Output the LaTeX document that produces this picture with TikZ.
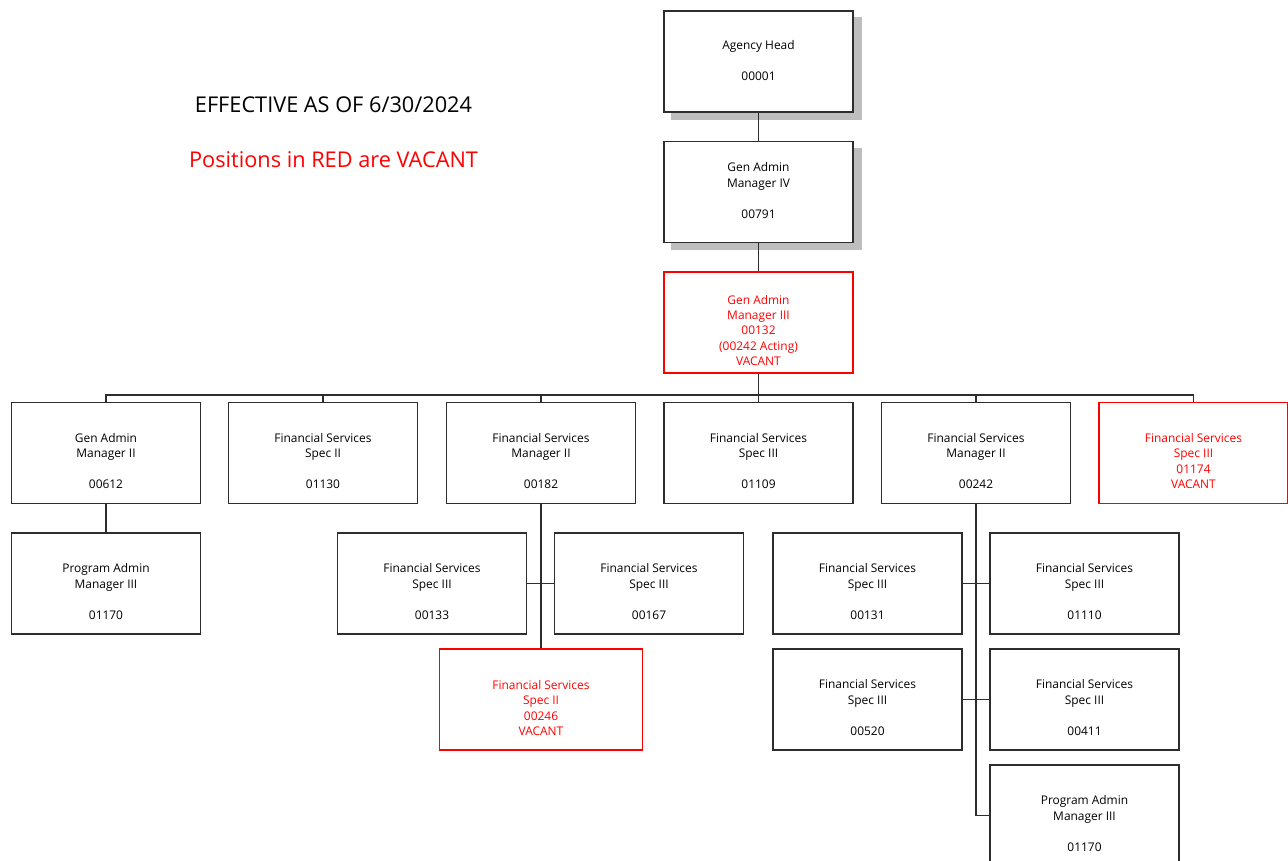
\documentclass[tikz,border=0pt]{standalone}
\usepackage{fontspec}
\setmainfont{Open Sans}
\usetikzlibrary{backgrounds,calc}
\definecolor{linecol}{RGB}{45,45,45}
\definecolor{vacant}{RGB}{255,0,0}
\definecolor{shade}{RGB}{190,190,190}
\tikzset{
  box/.style={draw=linecol, line width=0.85pt, fill=white, minimum width=141.75pt,
    minimum height=75.75pt, inner sep=0pt},
  vbox/.style={box, draw=vacant},
  txt/.style={align=center, inner sep=0pt, text=black, font=\fontsize{8.95}{11.6}\selectfont},
  vtxt/.style={txt, text=vacant},
  conn/.style={draw=linecol, line width=1pt},
  shadowfill/.style={fill=shade},
  headline/.style={inner sep=0pt, font=\fontsize{16.3}{19}\selectfont}
}
\begin{document}
\begin{tikzpicture}[x=0.75pt, y=-0.75pt]
\clip (0,0) rectangle (1288,860);

% header notes
\node[headline] (eff) at (333.5,105) {EFFECTIVE AS OF 6/30/2024};
\node[headline, text=vacant] (note) at (333.5,160) {Positions in RED are VACANT};

% top of chain
\node[box] (ah)  at (758.5,61.5) {};
\node[txt] (ahT) at ([yshift=1]ah.center) {Agency Head\\[11.6pt]00001};
\node[box] (gm4) at (758.5,192) {};
\node[txt] (gm4T) at ([yshift=1]gm4.center) {Gen Admin\\Manager IV\\[11.6pt]00791};
\node[vbox] (gm3) at (758.5,322.5) {};
\node[vtxt] (gm3T) at ([yshift=-6]gm3.center) {Gen Admin\\Manager III\\00132\\(00242 Acting)\\VACANT};

% second row
\node[box] (gm2) at (106,453) {};
\node[txt] (gm2T) at ([yshift=-6]gm2.center) {Gen Admin\\Manager II\\[11.6pt]00612};
\node[box] (fs1130) at (323,453) {};
\node[txt] (fs1130T) at ([yshift=-6]fs1130.center) {Financial Services\\Spec II\\[11.6pt]01130};
\node[box] (fm182) at (541,453) {};
\node[txt] (fm182T) at ([yshift=-6]fm182.center) {Financial Services\\Manager II\\[11.6pt]00182};
\node[box] (fs1109) at (758.5,453) {};
\node[txt] (fs1109T) at ([yshift=-6]fs1109.center) {Financial Services\\Spec III\\[11.6pt]01109};
\node[box] (fm242) at (976,453) {};
\node[txt] (fm242T) at ([yshift=-6]fm242.center) {Financial Services\\Manager II\\[11.6pt]00242};
\node[vbox] (fs1174) at (1193.5,453) {};
\node[vtxt] (fs1174T) at ([yshift=-6]fs1174.center) {Financial Services\\Spec III\\01174\\VACANT};

% under Gen Admin Manager II
\node[box] (pmA) at (106,583.5) {};
\node[txt] (pmAT) at ([yshift=-6]pmA.center) {Program Admin\\Manager III\\[11.6pt]01170};

% under Financial Services Manager II (00182)
\node[box] (fs133) at (432,583.5) {};
\node[txt] (fs133T) at ([yshift=-6]fs133.center) {Financial Services\\Spec III\\[11.6pt]00133};
\node[box] (fs167) at (649,583.5) {};
\node[txt] (fs167T) at ([yshift=-6]fs167.center) {Financial Services\\Spec III\\[11.6pt]00167};
\node[vbox, minimum width=152.25pt] (fs246) at (541,699.5) {};
\node[vtxt] (fs246T) at ([yshift=-6.5]fs246.center) {Financial Services\\Spec II\\00246\\VACANT};

% under Financial Services Manager II (00242)
\node[box] (fs131) at (867.5,583.5) {};
\node[txt] (fs131T) at ([yshift=-6]fs131.center) {Financial Services\\Spec III\\[11.6pt]00131};
\node[box] (fs1110) at (1084.5,583.5) {};
\node[txt] (fs1110T) at ([yshift=-6]fs1110.center) {Financial Services\\Spec III\\[11.6pt]01110};
\node[box] (fs520) at (867.5,699.5) {};
\node[txt] (fs520T) at ([yshift=-6]fs520.center) {Financial Services\\Spec III\\[11.6pt]00520};
\node[box] (fs411) at (1084.5,699.5) {};
\node[txt] (fs411T) at ([yshift=-6]fs411.center) {Financial Services\\Spec III\\[11.6pt]00411};
\node[box] (pmB) at (1084.5,815.5) {};
\node[txt] (pmBT) at ([yshift=-6]pmB.center) {Program Admin\\Manager III\\[11.6pt]01170};

% white page and drop shadows of the two senior boxes
\begin{scope}[on background layer]
  \fill[white] (0,0) rectangle (1288,860);
  \fill[shadowfill] ([shift={(8,7)}]ah.south west) rectangle ([shift={(8,7)}]ah.north east);
  \fill[shadowfill] ([shift={(8,7)}]gm4.south west) rectangle ([shift={(8,7)}]gm4.north east);
\end{scope}

% reporting lines
\coordinate (bus) at (758.5,395);
\draw[conn] (ah.south) -- (gm4.north);
\draw[conn] (gm4.south) -- (gm3.north);
\draw[conn] (gm3.south) -- (fs1109.north);
\draw[conn] (gm2.north) |- (bus) -| (fs1174.north);
\draw[conn] (fs1130.north) -- (fs1130.north |- bus);
\draw[conn] (fm182.north) -- (fm182.north |- bus);
\draw[conn] (fm242.north) -- (fm242.north |- bus);

\draw[conn] (gm2.south) -- (pmA.north);

\draw[conn] (fm182.south) -- (fs246.north);
\draw[conn] (fs133.east) -- (fs167.west);

\draw[conn] (fm242.south) |- (pmB.west);
\draw[conn] (fs131.east) -- (fs1110.west);
\draw[conn] (fs520.east) -- (fs411.west);
\end{tikzpicture}
\end{document}
